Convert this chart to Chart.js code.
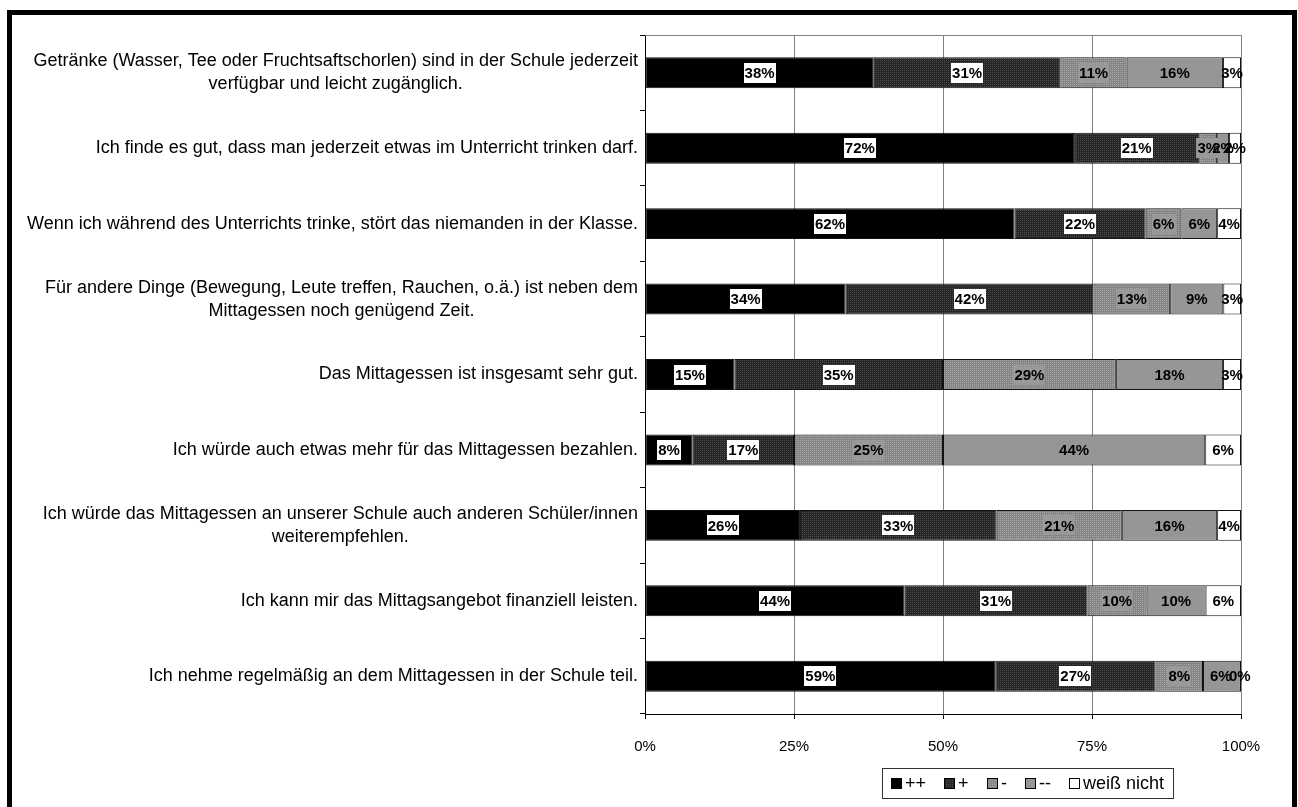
<!DOCTYPE html>
<html>
<head>
<meta charset="utf-8">
<script src="https://cdn.jsdelivr.net/npm/chart.js@4.4.1/dist/chart.umd.min.js"></script>
<style>
    html, body { margin: 0; padding: 0; background: #fff; overflow: hidden; }
    #wrap { position: relative; width: 1298px; height: 807px; }
    #chart { position: absolute; left: 0; top: 0; }
    #frame {
        position: absolute; left: 7px; top: 10px; width: 1290px; height: 900px;
        border: 5px solid #000; box-sizing: border-box; pointer-events: none;
    }
</style>
</head>
<body>
<div id="wrap">
    <canvas id="chart" width="1298" height="807"></canvas>
    <div id="frame"></div>
</div>
<script>
// Statements (one per bar, multi-line where the original wraps)
const statements = [
    ['Getränke (Wasser, Tee oder Fruchtsaftschorlen) sind in der Schule jederzeit', 'verfügbar und leicht zugänglich.'],
    'Ich finde es gut, dass man jederzeit etwas im Unterricht trinken darf.',
    'Wenn ich während des Unterrichts trinke, stört das niemanden in der Klasse.',
    ['Für andere Dinge (Bewegung, Leute treffen, Rauchen, o.ä.) ist neben dem', 'Mittagessen noch genügend Zeit.'],
    'Das Mittagessen ist insgesamt sehr gut.',
    'Ich würde auch etwas mehr für das Mittagessen bezahlen.',
    ['Ich würde das Mittagessen an unserer Schule auch anderen Schüler/innen', 'weiterempfehlen.'],
    'Ich kann mir das Mittagsangebot finanziell leisten.',
    'Ich nehme regelmäßig an dem Mittagessen in der Schule teil.'
];

const seriesNames = ['++', '+', '-', '--', 'weiß nicht'];

// Answer shares in percent
const veryGood = [38, 72, 62, 34, 15, 8, 26, 44, 59];
const good     = [31, 21, 22, 42, 35, 17, 33, 31, 27];
const bad      = [11, 3, 6, 13, 29, 25, 21, 10, 8];
const veryBad  = [16, 2, 6, 9, 18, 44, 16, 10, 6];
const dontKnow = [3, 2, 4, 3, 3, 6, 4, 6, 0.4];

const xTicks = [0, 25, 50, 75, 100];

const FONT = "'Liberation Sans', Arial, sans-serif";
const LABEL_RIGHT = 638;
const LINE_H = 23;

// small dotted fills like the old office patterns
function makePattern(c1, c2) {
    const p = document.createElement('canvas');
    p.width = 2; p.height = 2;
    const pctx = p.getContext('2d');
    pctx.fillStyle = c1;
    pctx.fillRect(0, 0, 2, 2);
    pctx.fillStyle = c2;
    pctx.fillRect(0, 0, 1, 1);
    return document.getElementById('chart').getContext('2d').createPattern(p, 'repeat');
}

const rawSeries = [veryGood, good, bad, veryBad, dontKnow];
const fills = [
    '#000000',
    makePattern('#262626', '#4a4a4a'),
    makePattern('#858585', '#a6a6a6'),
    '#969696',
    '#ffffff'
];
const labelBoxes = ['#ffffff', '#ffffff', '#999999', null, null];

// 100% stacked: each row is scaled to its own total
const rowSums = statements.map((_, i) => rawSeries.reduce((s, arr) => s + arr[i], 0));

const datasets = rawSeries.map((arr, k) => ({
    label: seriesNames[k],
    data: arr.map((v, i) => v / rowSums[i] * 100),
    raw: arr,
    backgroundColor: fills[k],
    borderColor: '#111111',
    borderWidth: 1,
    borderSkipped: false,
    categoryPercentage: 1,
    barPercentage: 0.41
}));

// Plot frame (top/right edge)
const frameBox = {
    id: 'frameBox',
    beforeDatasetsDraw(chart) {
        const { ctx, chartArea: a } = chart;
        ctx.save();
        ctx.strokeStyle = '#808080';
        ctx.lineWidth = 1;
        ctx.beginPath();
        ctx.moveTo(a.left, a.top + 0.5);
        ctx.lineTo(a.right + 0.5, a.top + 0.5);
        ctx.lineTo(a.right + 0.5, a.bottom);
        ctx.stroke();
        ctx.restore();
    }
};

// Percent labels inside the segments
const segmentLabels = {
    id: 'segmentLabels',
    afterDatasetsDraw(chart) {
        const ctx = chart.ctx;
        ctx.save();
        ctx.font = 'bold 15px ' + FONT;
        ctx.textAlign = 'center';
        ctx.textBaseline = 'middle';
        chart.data.datasets.forEach((ds, k) => {
            const meta = chart.getDatasetMeta(k);
            meta.data.forEach((el, i) => {
                const text = Math.round(ds.raw[i]) + '%';
                const cx = (el.x + el.base) / 2;
                const cy = el.y;
                const w = ctx.measureText(text).width;
                if (labelBoxes[k]) {
                    ctx.fillStyle = labelBoxes[k];
                    ctx.fillRect(Math.round(cx - w / 2 - 1), Math.round(cy - 10), Math.round(w + 2), 20);
                }
                ctx.fillStyle = '#000';
                ctx.fillText(text, cx, cy + 1);
            });
        });
        ctx.restore();
    }
};

// Statement texts, centred lines, block right-aligned to the axis
const statementLabels = {
    id: 'statementLabels',
    afterDraw(chart) {
        const ctx = chart.ctx;
        const yScale = chart.scales.y;
        ctx.save();
        ctx.font = '18px ' + FONT;
        ctx.fillStyle = '#000';
        ctx.textAlign = 'center';
        ctx.textBaseline = 'middle';
        chart.data.labels.forEach((lbl, i) => {
            const lines = Array.isArray(lbl) ? lbl : [lbl];
            const w = Math.max(...lines.map(l => ctx.measureText(l).width));
            const cx = LABEL_RIGHT - w / 2;
            const y0 = yScale.getPixelForValue(i) - (lines.length - 1) * LINE_H / 2;
            lines.forEach((l, n) => ctx.fillText(l, cx, y0 + n * LINE_H));
        });
        ctx.restore();
    }
};

// Boxed legend under the plot
const boxLegend = {
    id: 'boxLegend',
    afterDraw(chart) {
        const ctx = chart.ctx;
        const centerX = 1027, centerY = 783;
        const marker = 11, gapText = 3, gapItem = 18, pad = 9;
        ctx.save();
        ctx.font = '18px ' + FONT;
        ctx.textBaseline = 'middle';
        const items = chart.data.datasets.map((ds, k) => ({
            text: ds.label, fill: fills[k], w: marker + gapText + ctx.measureText(ds.label).width
        }));
        const total = items.reduce((s, it) => s + it.w, 0) + gapItem * (items.length - 1);
        const left = Math.round(centerX - total / 2 - pad);
        ctx.strokeStyle = '#333';
        ctx.lineWidth = 1;
        ctx.strokeRect(left + 0.5, centerY - 15 + 0.5, Math.round(total + 2 * pad), 30);
        let x = Math.round(left + pad);
        items.forEach(it => {
            ctx.fillStyle = it.fill;
            ctx.fillRect(x, centerY - 5, marker, marker);
            ctx.strokeStyle = '#000';
            ctx.strokeRect(x + 0.5, centerY - 5 + 0.5, marker - 1, marker - 1);
            ctx.fillStyle = '#000';
            ctx.fillText(it.text, x + marker + gapText, centerY + 1);
            x = Math.round(x + it.w + gapItem);
        });
        ctx.restore();
    }
};

const canvas = document.getElementById('chart');
new Chart(canvas.getContext('2d'), {
    type: 'bar',
    data: { labels: statements, datasets: datasets },
    options: {
        indexAxis: 'y',
        responsive: false,
        animation: false,
        layout: { padding: { top: 35, right: 57, left: 0, bottom: 0 } },
        plugins: {
            legend: { display: false },
            tooltip: { enabled: false }
        },
        scales: {
            x: {
                stacked: true,
                min: 0,
                max: 100,
                afterBuildTicks: scale => { scale.ticks = xTicks.map(v => ({ value: v })); },
                afterFit: scale => { scale.height = 93; },
                ticks: {
                    callback: v => v + '%',
                    color: '#000',
                    font: { family: FONT, size: 15 },
                    padding: 19,
                    maxRotation: 0
                },
                grid: {
                    color: ctx => ctx.tick && ctx.tick.value === 0 ? '#000' : '#808080',
                    tickColor: '#000',
                    tickLength: 5,
                    lineWidth: 1
                },
                border: { color: '#000', width: 1 }
            },
            y: {
                stacked: true,
                afterFit: scale => { scale.width = 645; },
                ticks: { callback: () => '' },
                grid: {
                    drawOnChartArea: false,
                    drawTicks: true,
                    tickLength: 5,
                    offset: true,
                    color: '#000',
                    tickColor: '#000'
                },
                border: { color: '#000', width: 1 }
            }
        }
    },
    plugins: [frameBox, segmentLabels, statementLabels, boxLegend]
});
</script>
</body>
</html>
